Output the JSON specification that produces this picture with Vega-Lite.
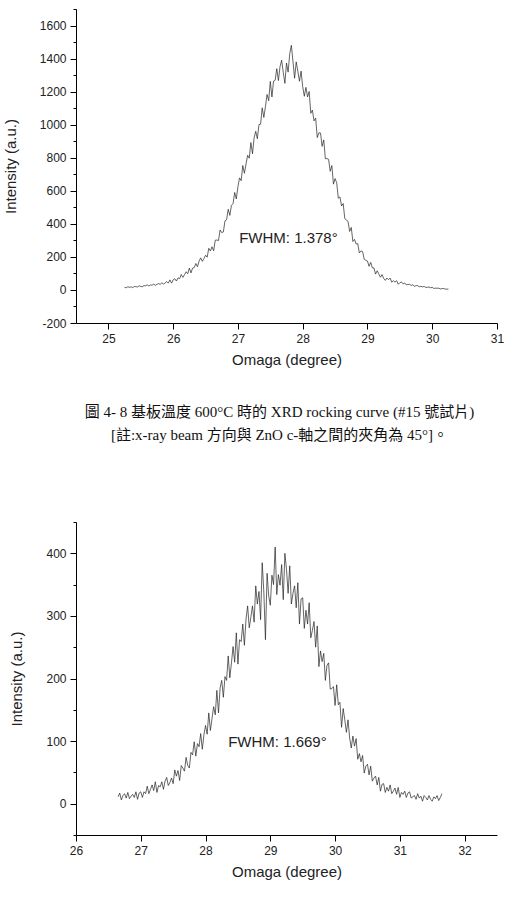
{
  "$schema": "https://vega.github.io/schema/vega-lite/v6.json",
  "padding": {"left": 3, "top": 3, "right": 4, "bottom": 4},
  "background": "white",
  "config": {
    "view": {"stroke": null},
    "axis": {
      "grid": false,
      "domainColor": "#000",
      "tickColor": "#000",
      "labelFont": "Liberation Sans",
      "labelFontSize": 12,
      "labelColor": "#222",
      "titleFont": "Liberation Sans",
      "titleFontSize": 15,
      "titleFontWeight": "normal",
      "titleColor": "#222",
      "labelFlush": false,
      "labelOverlap": false,
      "labelPadding": 4,
      "tickCount": 100
    }
  },
  "spacing": 73,
  "datasets": {
    "top": [
      {"omega":25.250,"intensity":16},{"omega":25.275,"intensity":13},{"omega":25.300,"intensity":19},{"omega":25.325,"intensity":16},
      {"omega":25.350,"intensity":19},{"omega":25.375,"intensity":14},{"omega":25.400,"intensity":21},{"omega":25.425,"intensity":20},
      {"omega":25.450,"intensity":18},{"omega":25.475,"intensity":25},{"omega":25.500,"intensity":21},{"omega":25.525,"intensity":20},
      {"omega":25.550,"intensity":26},{"omega":25.575,"intensity":25},{"omega":25.600,"intensity":31},{"omega":25.625,"intensity":24},
      {"omega":25.650,"intensity":30},{"omega":25.675,"intensity":29},{"omega":25.700,"intensity":35},{"omega":25.725,"intensity":28},
      {"omega":25.750,"intensity":34},{"omega":25.775,"intensity":38},{"omega":25.800,"intensity":34},{"omega":25.825,"intensity":43},
      {"omega":25.850,"intensity":36},{"omega":25.875,"intensity":42},{"omega":25.900,"intensity":50},{"omega":25.925,"intensity":42},
      {"omega":25.950,"intensity":61},{"omega":25.975,"intensity":41},{"omega":26.000,"intensity":61},{"omega":26.025,"intensity":68},
      {"omega":26.050,"intensity":54},{"omega":26.075,"intensity":73},{"omega":26.100,"intensity":69},{"omega":26.125,"intensity":94},
      {"omega":26.150,"intensity":76},{"omega":26.175,"intensity":92},{"omega":26.200,"intensity":110},{"omega":26.225,"intensity":98},
      {"omega":26.250,"intensity":132},{"omega":26.275,"intensity":103},{"omega":26.300,"intensity":132},{"omega":26.325,"intensity":135},
      {"omega":26.350,"intensity":160},{"omega":26.375,"intensity":140},{"omega":26.400,"intensity":174},{"omega":26.425,"intensity":194},
      {"omega":26.450,"intensity":173},{"omega":26.475,"intensity":190},{"omega":26.500,"intensity":210},{"omega":26.525,"intensity":198},
      {"omega":26.550,"intensity":252},{"omega":26.575,"intensity":236},{"omega":26.600,"intensity":261},{"omega":26.625,"intensity":237},
      {"omega":26.650,"intensity":301},{"omega":26.675,"intensity":302},{"omega":26.700,"intensity":299},{"omega":26.725,"intensity":363},
      {"omega":26.750,"intensity":347},{"omega":26.775,"intensity":351},{"omega":26.800,"intensity":418},{"omega":26.825,"intensity":425},
      {"omega":26.850,"intensity":488},{"omega":26.875,"intensity":451},{"omega":26.900,"intensity":512},{"omega":26.925,"intensity":522},
      {"omega":26.950,"intensity":590},{"omega":26.975,"intensity":551},{"omega":27.000,"intensity":624},{"omega":27.025,"intensity":678},
      {"omega":27.050,"intensity":661},{"omega":27.075,"intensity":753},{"omega":27.100,"intensity":706},{"omega":27.125,"intensity":762},
      {"omega":27.150,"intensity":815},{"omega":27.175,"intensity":797},{"omega":27.200,"intensity":892},{"omega":27.225,"intensity":824},
      {"omega":27.250,"intensity":921},{"omega":27.275,"intensity":960},{"omega":27.300,"intensity":915},{"omega":27.325,"intensity":1001},
      {"omega":27.350,"intensity":1003},{"omega":27.375,"intensity":1102},{"omega":27.400,"intensity":1044},{"omega":27.425,"intensity":1110},
      {"omega":27.450,"intensity":1183},{"omega":27.475,"intensity":1145},{"omega":27.500,"intensity":1262},{"omega":27.525,"intensity":1168},
      {"omega":27.550,"intensity":1263},{"omega":27.575,"intensity":1269},{"omega":27.600,"intensity":1339},{"omega":27.625,"intensity":1267},
      {"omega":27.650,"intensity":1351},{"omega":27.675,"intensity":1390},{"omega":27.700,"intensity":1317},{"omega":27.725,"intensity":1250},
      {"omega":27.750,"intensity":1373},{"omega":27.775,"intensity":1318},{"omega":27.800,"intensity":1430},{"omega":27.825,"intensity":1480},
      {"omega":27.850,"intensity":1382},{"omega":27.875,"intensity":1281},{"omega":27.900,"intensity":1380},{"omega":27.925,"intensity":1324},
      {"omega":27.950,"intensity":1263},{"omega":27.975,"intensity":1324},{"omega":28.000,"intensity":1231},{"omega":28.025,"intensity":1172},
      {"omega":28.050,"intensity":1226},{"omega":28.075,"intensity":1168},{"omega":28.100,"intensity":1201},{"omega":28.125,"intensity":1069},
      {"omega":28.150,"intensity":1088},{"omega":28.175,"intensity":1023},{"omega":28.200,"intensity":1040},{"omega":28.225,"intensity":922},
      {"omega":28.250,"intensity":951},{"omega":28.275,"intensity":950},{"omega":28.300,"intensity":869},{"omega":28.325,"intensity":908},
      {"omega":28.350,"intensity":794},{"omega":28.375,"intensity":795},{"omega":28.400,"intensity":790},{"omega":28.425,"intensity":718},
      {"omega":28.450,"intensity":753},{"omega":28.475,"intensity":640},{"omega":28.500,"intensity":674},{"omega":28.525,"intensity":648},
      {"omega":28.550,"intensity":555},{"omega":28.575,"intensity":563},{"omega":28.600,"intensity":508},{"omega":28.625,"intensity":523},
      {"omega":28.650,"intensity":432},{"omega":28.675,"intensity":423},{"omega":28.700,"intensity":415},{"omega":28.725,"intensity":354},
      {"omega":28.750,"intensity":378},{"omega":28.775,"intensity":293},{"omega":28.800,"intensity":306},{"omega":28.825,"intensity":278},
      {"omega":28.850,"intensity":280},{"omega":28.875,"intensity":224},{"omega":28.900,"intensity":236},{"omega":28.925,"intensity":232},
      {"omega":28.950,"intensity":185},{"omega":28.975,"intensity":179},{"omega":29.000,"intensity":175},{"omega":29.025,"intensity":143},
      {"omega":29.050,"intensity":167},{"omega":29.075,"intensity":134},{"omega":29.100,"intensity":133},{"omega":29.125,"intensity":96},
      {"omega":29.150,"intensity":116},{"omega":29.175,"intensity":97},{"omega":29.200,"intensity":77},{"omega":29.225,"intensity":93},
      {"omega":29.250,"intensity":70},{"omega":29.275,"intensity":58},{"omega":29.300,"intensity":72},{"omega":29.325,"intensity":62},
      {"omega":29.350,"intensity":72},{"omega":29.375,"intensity":47},{"omega":29.400,"intensity":56},{"omega":29.425,"intensity":47},
      {"omega":29.450,"intensity":56},{"omega":29.475,"intensity":34},{"omega":29.500,"intensity":44},{"omega":29.525,"intensity":48},
      {"omega":29.550,"intensity":37},{"omega":29.575,"intensity":42},{"omega":29.600,"intensity":31},{"omega":29.625,"intensity":33},
      {"omega":29.650,"intensity":34},{"omega":29.675,"intensity":27},{"omega":29.700,"intensity":32},{"omega":29.725,"intensity":22},
      {"omega":29.750,"intensity":26},{"omega":29.775,"intensity":26},{"omega":29.800,"intensity":19},{"omega":29.825,"intensity":22},
      {"omega":29.850,"intensity":18},{"omega":29.875,"intensity":22},{"omega":29.900,"intensity":15},{"omega":29.925,"intensity":16},
      {"omega":29.950,"intensity":18},{"omega":29.975,"intensity":13},{"omega":30.000,"intensity":16},{"omega":30.025,"intensity":9},
      {"omega":30.050,"intensity":11},{"omega":30.075,"intensity":10},{"omega":30.100,"intensity":11},{"omega":30.125,"intensity":6},
      {"omega":30.150,"intensity":8},{"omega":30.175,"intensity":9},{"omega":30.200,"intensity":5},{"omega":30.225,"intensity":5},
      {"omega":30.250,"intensity":5}
    ],
    "bottom": [
      {"omega":26.650,"intensity":11},{"omega":26.675,"intensity":17},{"omega":26.700,"intensity":6},{"omega":26.725,"intensity":13},
      {"omega":26.750,"intensity":16},{"omega":26.775,"intensity":9},{"omega":26.800,"intensity":18},{"omega":26.825,"intensity":8},
      {"omega":26.850,"intensity":12},{"omega":26.875,"intensity":15},{"omega":26.900,"intensity":10},{"omega":26.925,"intensity":19},
      {"omega":26.950,"intensity":7},{"omega":26.975,"intensity":17},{"omega":27.000,"intensity":19},{"omega":27.025,"intensity":10},
      {"omega":27.050,"intensity":19},{"omega":27.075,"intensity":16},{"omega":27.100,"intensity":28},{"omega":27.125,"intensity":16},
      {"omega":27.150,"intensity":23},{"omega":27.175,"intensity":30},{"omega":27.200,"intensity":21},{"omega":27.225,"intensity":35},
      {"omega":27.250,"intensity":18},{"omega":27.275,"intensity":29},{"omega":27.300,"intensity":27},{"omega":27.325,"intensity":35},
      {"omega":27.350,"intensity":23},{"omega":27.375,"intensity":36},{"omega":27.400,"intensity":42},{"omega":27.425,"intensity":29},
      {"omega":27.450,"intensity":34},{"omega":27.475,"intensity":41},{"omega":27.500,"intensity":32},{"omega":27.525,"intensity":54},
      {"omega":27.550,"intensity":44},{"omega":27.575,"intensity":53},{"omega":27.600,"intensity":37},{"omega":27.625,"intensity":61},
      {"omega":27.650,"intensity":57},{"omega":27.675,"intensity":52},{"omega":27.700,"intensity":74},{"omega":27.725,"intensity":61},
      {"omega":27.750,"intensity":57},{"omega":27.775,"intensity":82},{"omega":27.800,"intensity":78},{"omega":27.825,"intensity":99},
      {"omega":27.850,"intensity":76},{"omega":27.875,"intensity":96},{"omega":27.900,"intensity":91},{"omega":27.925,"intensity":112},
      {"omega":27.950,"intensity":87},{"omega":27.975,"intensity":110},{"omega":28.000,"intensity":125},{"omega":28.025,"intensity":111},
      {"omega":28.050,"intensity":145},{"omega":28.075,"intensity":117},{"omega":28.100,"intensity":136},{"omega":28.125,"intensity":155},
      {"omega":28.150,"intensity":142},{"omega":28.175,"intensity":181},{"omega":28.200,"intensity":145},{"omega":28.225,"intensity":185},
      {"omega":28.250,"intensity":197},{"omega":28.275,"intensity":170},{"omega":28.300,"intensity":203},{"omega":28.325,"intensity":197},
      {"omega":28.350,"intensity":236},{"omega":28.375,"intensity":201},{"omega":28.400,"intensity":225},{"omega":28.425,"intensity":251},
      {"omega":28.450,"intensity":226},{"omega":28.475,"intensity":273},{"omega":28.500,"intensity":223},{"omega":28.525,"intensity":262},
      {"omega":28.550,"intensity":259},{"omega":28.575,"intensity":287},{"omega":28.600,"intensity":253},{"omega":28.625,"intensity":295},
      {"omega":28.650,"intensity":316},{"omega":28.675,"intensity":281},{"omega":28.700,"intensity":298},{"omega":28.725,"intensity":316},
      {"omega":28.750,"intensity":290},{"omega":28.775,"intensity":348},{"omega":28.800,"intensity":319},{"omega":28.825,"intensity":339},
      {"omega":28.850,"intensity":294},{"omega":28.875,"intensity":385},{"omega":28.900,"intensity":338},{"omega":28.925,"intensity":262},
      {"omega":28.950,"intensity":368},{"omega":28.975,"intensity":332},{"omega":29.000,"intensity":317},{"omega":29.025,"intensity":365},
      {"omega":29.050,"intensity":350},{"omega":29.075,"intensity":410},{"omega":29.100,"intensity":334},{"omega":29.125,"intensity":366},
      {"omega":29.150,"intensity":349},{"omega":29.175,"intensity":382},{"omega":29.200,"intensity":326},{"omega":29.225,"intensity":400},
      {"omega":29.250,"intensity":374},{"omega":29.275,"intensity":336},{"omega":29.300,"intensity":380},{"omega":29.325,"intensity":319},
      {"omega":29.350,"intensity":336},{"omega":29.375,"intensity":348},{"omega":29.400,"intensity":313},{"omega":29.425,"intensity":353},
      {"omega":29.450,"intensity":287},{"omega":29.475,"intensity":327},{"omega":29.500,"intensity":329},{"omega":29.525,"intensity":280},
      {"omega":29.550,"intensity":309},{"omega":29.575,"intensity":287},{"omega":29.600,"intensity":321},{"omega":29.625,"intensity":265},
      {"omega":29.650,"intensity":277},{"omega":29.675,"intensity":291},{"omega":29.700,"intensity":250},{"omega":29.725,"intensity":284},
      {"omega":29.750,"intensity":219},{"omega":29.775,"intensity":244},{"omega":29.800,"intensity":227},{"omega":29.825,"intensity":240},
      {"omega":29.850,"intensity":197},{"omega":29.875,"intensity":221},{"omega":29.900,"intensity":225},{"omega":29.925,"intensity":183},
      {"omega":29.950,"intensity":184},{"omega":29.975,"intensity":187},{"omega":30.000,"intensity":157},{"omega":30.025,"intensity":190},
      {"omega":30.050,"intensity":158},{"omega":30.075,"intensity":162},{"omega":30.100,"intensity":122},{"omega":30.125,"intensity":152},
      {"omega":30.150,"intensity":134},{"omega":30.175,"intensity":114},{"omega":30.200,"intensity":134},{"omega":30.225,"intensity":105},
      {"omega":30.250,"intensity":89},{"omega":30.275,"intensity":108},{"omega":30.300,"intensity":92},{"omega":30.325,"intensity":104},
      {"omega":30.350,"intensity":71},{"omega":30.375,"intensity":80},{"omega":30.400,"intensity":67},{"omega":30.425,"intensity":77},
      {"omega":30.450,"intensity":49},{"omega":30.475,"intensity":60},{"omega":30.500,"intensity":63},{"omega":30.525,"intensity":46},
      {"omega":30.550,"intensity":60},{"omega":30.575,"intensity":36},{"omega":30.600,"intensity":41},{"omega":30.625,"intensity":44},
      {"omega":30.650,"intensity":30},{"omega":30.675,"intensity":42},{"omega":30.700,"intensity":20},{"omega":30.725,"intensity":31},
      {"omega":30.750,"intensity":32},{"omega":30.775,"intensity":18},{"omega":30.800,"intensity":26},{"omega":30.825,"intensity":20},
      {"omega":30.850,"intensity":30},{"omega":30.875,"intensity":16},{"omega":30.900,"intensity":20},{"omega":30.925,"intensity":25},
      {"omega":30.950,"intensity":15},{"omega":30.975,"intensity":26},{"omega":31.000,"intensity":10},{"omega":31.025,"intensity":18},
      {"omega":31.050,"intensity":15},{"omega":31.075,"intensity":20},{"omega":31.100,"intensity":10},{"omega":31.125,"intensity":17},
      {"omega":31.150,"intensity":19},{"omega":31.175,"intensity":9},{"omega":31.200,"intensity":11},{"omega":31.225,"intensity":13},
      {"omega":31.250,"intensity":7},{"omega":31.275,"intensity":16},{"omega":31.300,"intensity":9},{"omega":31.325,"intensity":12},
      {"omega":31.350,"intensity":4},{"omega":31.375,"intensity":13},{"omega":31.400,"intensity":10},{"omega":31.425,"intensity":6},
      {"omega":31.450,"intensity":13},{"omega":31.475,"intensity":7},{"omega":31.500,"intensity":4},{"omega":31.525,"intensity":11},
      {"omega":31.550,"intensity":8},{"omega":31.575,"intensity":13},{"omega":31.600,"intensity":5},{"omega":31.625,"intensity":10},
      {"omega":31.650,"intensity":16}
    ]
  },
  "vconcat": [
    {
      "width": 421,
      "height": 314,
      "title": {
        "text": ["圖 4- 8  基板溫度 600°C 時的 XRD rocking curve (#15 號試片)", "[註:x-ray beam 方向與 ZnO c-軸之間的夾角為 45°]。"],
        "orient": "bottom",
        "anchor": "middle",
        "frame": "group",
        "font": "'Liberation Serif', 'Noto Sans CJK TC'",
        "fontSize": 15,
        "fontWeight": "normal",
        "color": "#111",
        "lineHeight": 23,
        "offset": 38,
        "dx": -7
      },
      "layer": [
        {
          "data": {"name": "top"},
          "mark": {"type": "line", "color": "#222", "strokeWidth": 0.7},
          "encoding": {
            "x": {
              "field": "omega", "type": "quantitative",
              "scale": {"domain": [24.5, 31], "nice": false, "zero": false},
              "axis": {
                "title": "Omaga (degree)",
                "values": [25, 25.5, 26, 26.5, 27, 27.5, 28, 28.5, 29, 29.5, 30, 30.5, 31],
                "tickCount": 100,
                "format": "d",
                "labelOverlap": false,
                "labelExpr": "datum.value % 1 !== 0 ? '' : datum.label",
                "tickSize": {"condition": {"test": "datum.value % 1 !== 0", "value": 3}, "value": 6},
                "titlePadding": 8
              }
            },
            "y": {
              "field": "intensity", "type": "quantitative",
              "scale": {"domain": [-200, 1700], "nice": false, "zero": false},
              "axis": {
                "title": "Intensity (a.u.)",
                "values": [-200, -100, 0, 100, 200, 300, 400, 500, 600, 700, 800, 900, 1000, 1100, 1200, 1300, 1400, 1500, 1600, 1700],
                "tickCount": 100,
                "format": "d",
                "labelOverlap": false,
                "labelExpr": "(datum.value / 100) % 2 !== 0 ? '' : toString(datum.value)",
                "tickSize": {"condition": {"test": "(datum.value / 100) % 2 !== 0", "value": 3}, "value": 6},
                "titlePadding": 21
              }
            }
          }
        },
        {
          "data": {"values": [{"omega": 27.78, "intensity": 312, "label": "FWHM: 1.378°"}]},
          "mark": {"type": "text", "font": "Liberation Sans", "fontSize": 15, "color": "#222"},
          "encoding": {
            "x": {"field": "omega", "type": "quantitative"},
            "y": {"field": "intensity", "type": "quantitative"},
            "text": {"field": "label"}
          }
        }
      ]
    },
    {
      "width": 421,
      "height": 313,
      "layer": [
        {
          "data": {"name": "bottom"},
          "mark": {"type": "line", "color": "#222", "strokeWidth": 0.7},
          "encoding": {
            "x": {
              "field": "omega", "type": "quantitative",
              "scale": {"domain": [26, 32.5], "nice": false, "zero": false},
              "axis": {
                "title": "Omaga (degree)",
                "values": [26, 26.5, 27, 27.5, 28, 28.5, 29, 29.5, 30, 30.5, 31, 31.5, 32, 32.5],
                "tickCount": 100,
                "format": "d",
                "labelOverlap": false,
                "labelExpr": "datum.value % 1 !== 0 ? '' : datum.label",
                "tickSize": {"condition": {"test": "datum.value % 1 !== 0", "value": 3}, "value": 6},
                "titlePadding": 8
              }
            },
            "y": {
              "field": "intensity", "type": "quantitative",
              "scale": {"domain": [-50, 450], "nice": false, "zero": false},
              "axis": {
                "title": "Intensity (a.u.)",
                "values": [-50, 0, 50, 100, 150, 200, 250, 300, 350, 400, 450],
                "tickCount": 100,
                "format": "d",
                "labelOverlap": false,
                "labelExpr": "datum.value % 100 !== 0 ? '' : datum.label",
                "tickSize": {"condition": {"test": "datum.value % 100 !== 0", "value": 3}, "value": 6},
                "titlePadding": 21
              }
            }
          }
        },
        {
          "data": {"values": [{"omega": 29.11, "intensity": 98, "label": "FWHM: 1.669°"}]},
          "mark": {"type": "text", "font": "Liberation Sans", "fontSize": 15, "color": "#222"},
          "encoding": {
            "x": {"field": "omega", "type": "quantitative"},
            "y": {"field": "intensity", "type": "quantitative"},
            "text": {"field": "label"}
          }
        }
      ]
    }
  ]
}
